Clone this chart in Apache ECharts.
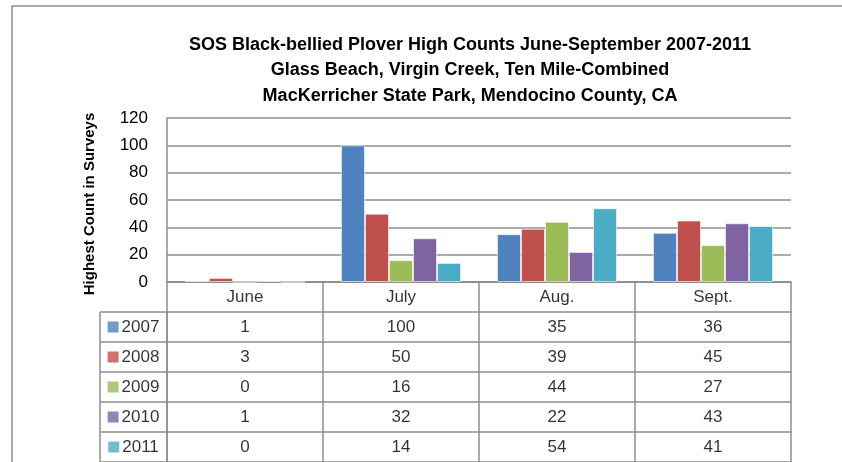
<!DOCTYPE html>
<html>
<head>
<meta charset="utf-8">
<script src="https://cdn.jsdelivr.net/npm/echarts@6/dist/echarts.min.js"></script>
<style>
  html, body { margin: 0; padding: 0; background: #fff; }
  #main { width: 842px; height: 462px; }
</style>
</head>
<body>
<div id="main"></div>
<script>
// data
const months = ['June', 'July', 'Aug.', 'Sept.'];
const years = ['2007', '2008', '2009', '2010', '2011'];
const counts2007 = [1, 100, 35, 36];
const counts2008 = [3, 50, 39, 45];
const counts2009 = [0, 16, 44, 27];
const counts2010 = [1, 32, 22, 43];
const counts2011 = [0, 14, 54, 41];
const yMin = 0, yMax = 120, yStep = 20;

const allCounts = [counts2007, counts2008, counts2009, counts2010, counts2011];
const colors = ['#4F81BD', '#C0504D', '#9BBB59', '#8064A2', '#4BACC6'];
const lineColor = '#8e8e8e';
const font = "'Liberation Sans', Arial, sans-serif";

// table rows: header row + one per year
const tableRows = ['head'].concat(years);

let myChart = echarts.init(document.getElementById('main'));

// bars
let barSeries = years.map((y, i) => ({
  name: y,
  type: 'bar',
  xAxisIndex: 0,
  yAxisIndex: 0,
  barGap: '0%',
  barCategoryGap: '23%',
  itemStyle: { color: colors[i], borderColor: 'rgba(255,255,255,0.6)', borderWidth: 1 },
  data: allCounts[i]
}));

// data table cells (month header + values)
let cellData = [];
months.forEach((m, mi) => {
  cellData.push([m, 'head', m]);
  years.forEach((y, yi) => {
    cellData.push([m, y, allCounts[yi][mi]]);
  });
});

// row header cells (legend key + year)
let keyRich = { yr: { fontSize: 17, fontFamily: font, color: '#000', padding: [0, 0, 0, 3] } };
colors.forEach((c, i) => {
  keyRich['sq' + i] = { width: 11, height: 11, backgroundColor: c };
});
let keyData = years.map((y, i) => ['key', y, i]);

var option = {
  animation: false,
  backgroundColor: '#fff',
  textStyle: { fontFamily: font },
  title: {
    text: 'SOS Black-bellied Plover High Counts June-September 2007-2011\nGlass Beach, Virgin Creek, Ten Mile-Combined\nMacKerricher State Park, Mendocino County, CA',
    left: 465,
    top: 27,
    textAlign: 'center',
    textStyle: {
      fontFamily: font,
      fontSize: 18,
      fontWeight: 'bold',
      color: '#000',
      lineHeight: 25.5
    }
  },
  graphic: [{
    type: 'rect',
    z: -1,
    shape: { x: 12, y: 6, width: 900, height: 500 },
    style: { fill: 'none', stroke: lineColor, lineWidth: 1.5 }
  }],
  grid: [
    { left: 167, right: 51, top: 118, height: 164 },
    { left: 167, right: 51, top: 282, height: 180 },
    { left: 100, width: 67, top: 312, height: 150 }
  ],
  xAxis: [
    {
      gridIndex: 0,
      type: 'category',
      data: months,
      axisLine: { show: true, lineStyle: { color: lineColor, width: 1.5 } },
      axisTick: { show: false },
      axisLabel: { show: false }
    },
    {
      gridIndex: 1,
      type: 'category',
      data: months,
      axisLine: { show: false },
      axisTick: { show: false },
      axisLabel: { show: false },
      splitLine: { show: true, lineStyle: { color: lineColor, width: 1.5 } }
    },
    {
      gridIndex: 2,
      type: 'category',
      data: ['key'],
      axisLine: { show: false },
      axisTick: { show: false },
      axisLabel: { show: false },
      splitLine: { show: true, lineStyle: { color: lineColor, width: 1.5 } }
    }
  ],
  yAxis: [
    {
      gridIndex: 0,
      type: 'value',
      min: yMin,
      max: yMax,
      interval: yStep,
      name: 'Highest Count in Surveys',
      nameLocation: 'middle',
      nameRotate: 90,
      nameGap: 70,
      nameTextStyle: { fontFamily: font, fontSize: 15, fontWeight: 'bold', color: '#000', padding: [0, 8, 0, 0] },
      axisLine: { show: true, lineStyle: { color: lineColor, width: 1.5 } },
      axisTick: { show: false },
      axisLabel: { fontFamily: font, fontSize: 17, color: '#000', margin: 19 },
      splitLine: { show: true, lineStyle: { color: lineColor, width: 1.5 } }
    },
    {
      gridIndex: 1,
      type: 'category',
      data: tableRows,
      inverse: true,
      axisLine: { show: false },
      axisTick: { show: false },
      axisLabel: { show: false },
      splitLine: { show: true, lineStyle: { color: lineColor, width: 1.5 } }
    },
    {
      gridIndex: 2,
      type: 'category',
      data: years,
      inverse: true,
      axisLine: { show: false },
      axisTick: { show: false },
      axisLabel: { show: false },
      splitLine: { show: true, lineStyle: { color: lineColor, width: 1.5 } }
    }
  ],
  series: barSeries.concat([
    {
      type: 'scatter',
      xAxisIndex: 1,
      yAxisIndex: 1,
      symbolSize: 0,
      label: {
        show: true,
        position: 'inside',
        fontFamily: font,
        fontSize: 17,
        color: '#000',
        formatter: p => String(p.value[2])
      },
      data: cellData
    },
    {
      type: 'scatter',
      xAxisIndex: 2,
      yAxisIndex: 2,
      symbolSize: 0,
      label: {
        show: true,
        position: 'inside',
        formatter: p => '{sq' + p.value[2] + '|}{yr|' + p.value[1] + '}',
        rich: keyRich
      },
      data: keyData
    }
  ])
};

myChart.setOption(option);
</script>
</body>
</html>
